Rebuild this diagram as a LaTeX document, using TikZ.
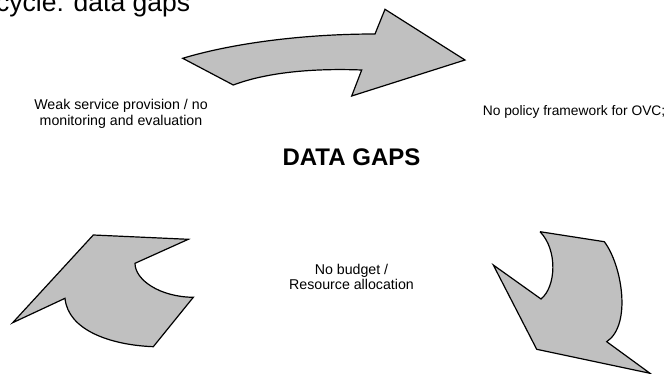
\documentclass[tikz,border=0pt]{standalone}
\usepackage{fontspec}
\setmainfont{Liberation Sans}
\definecolor{arrowgray}{RGB}{192,192,192}
\begin{document}
\begin{tikzpicture}[x=1pt,y=-1pt,
  arrowshape/.style={fill=arrowgray, draw=black, line width=1.2pt, line join=miter},
  smalltext/.style={font=\fontsize{14.2}{15.8}\selectfont, inner sep=0pt, align=center},
  bigtext/.style={font=\bfseries\fontsize{24}{27}\selectfont, inner sep=0pt},
  titletext/.style={font=\fontsize{26.5}{30}\selectfont, inner sep=0pt}]
\useasboundingbox (0,0) rectangle (667,374);

% top curved arrow
\draw[arrowshape] (182.7,58.3) .. controls (230,44) and (300,34) .. (375,34)
  -- (385,9.3) -- (465,60) -- (351.7,96) -- (361.7,70)
  .. controls (310,68) and (265,73) .. (233.3,85) -- cycle;

% bottom-left arrow
\draw[arrowshape] (93.3,235) -- (188.3,239.3) -- (135,263.3)
  .. controls (135,280) and (160,297) .. (193.3,297.3)
  -- (153.3,346.7)
  .. controls (110,345) and (68,330) .. (65,298.3)
  -- (12.7,322.7) -- cycle;

% bottom-right arrow
\draw[arrowshape] (540,231.7) -- (604.3,241.7)
  .. controls (622,265) and (632,325) .. (606.7,341.7)
  -- (650,373.3) -- (536.7,349.3) -- (493.3,265) -- (541,299)
  .. controls (556,287) and (558,250) .. (540,231.7);

% texts
\node[titletext, anchor=base west] (title) at (-4,12) {cycle: data gaps};
\node[smalltext, anchor=base] (weak) at (121,125.5) {Weak service provision / no\\monitoring and evaluation};
\node[smalltext, font=\fontsize{13.8}{15.8}\selectfont, anchor=base east] (policy) at (665.5,116) {No policy framework for OVC;};
\node[bigtext, anchor=base] (gaps) at (351.5,166) {DATA GAPS};
\node[smalltext, anchor=base] (budget) at (351.5,290) {No budget /\\Resource allocation};
\end{tikzpicture}
\end{document}
